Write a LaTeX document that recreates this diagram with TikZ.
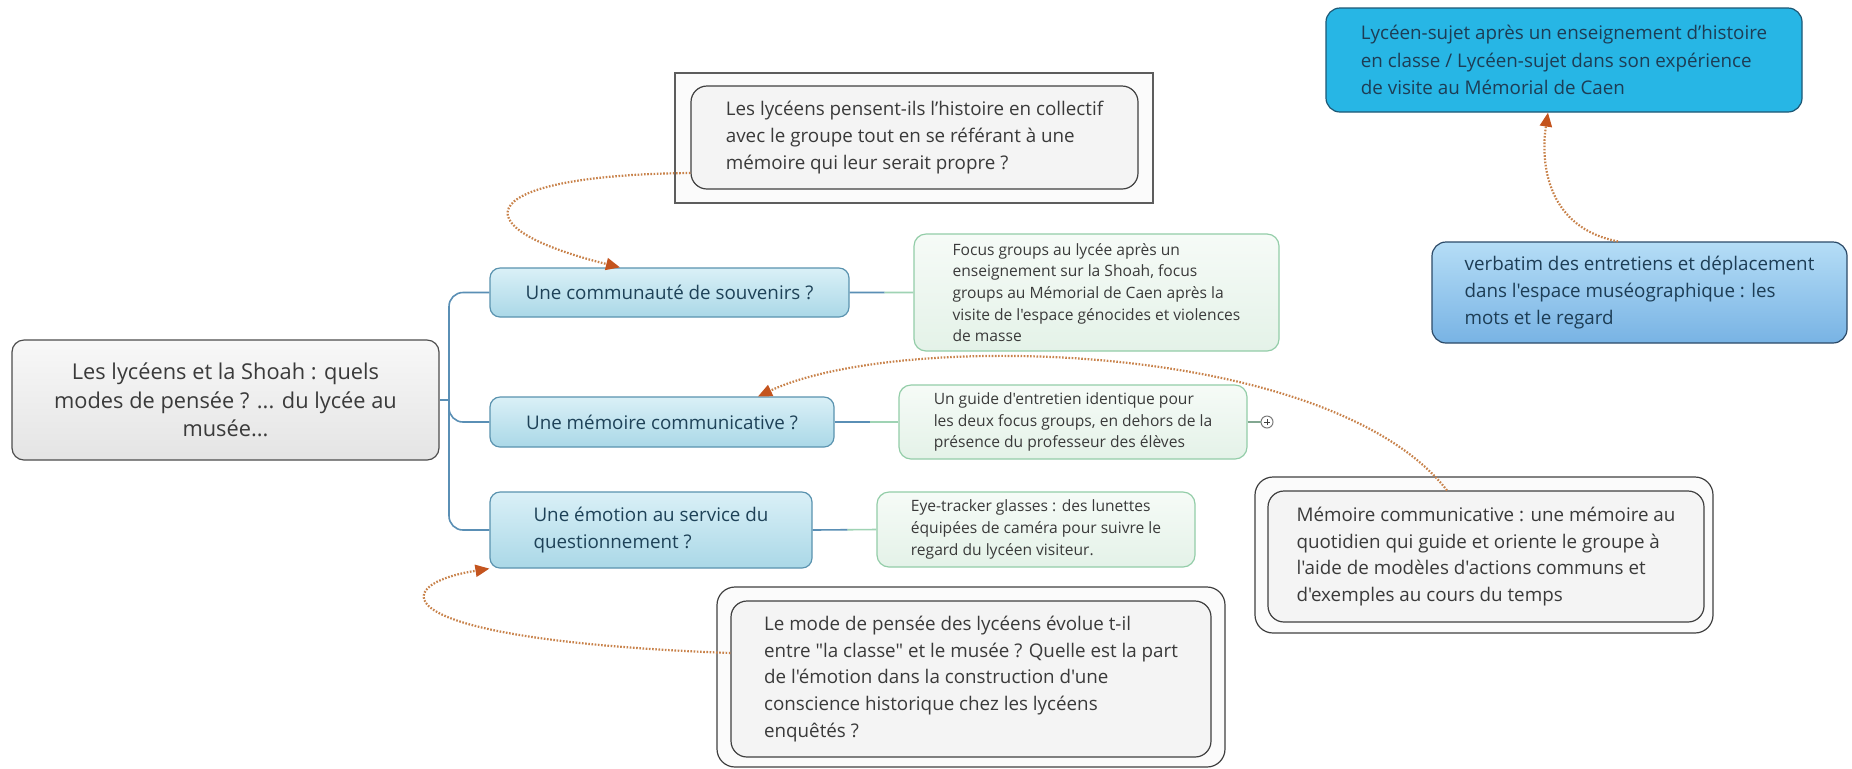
\documentclass[tikz,border=0pt]{standalone}
\usepackage{fontspec}
\setmainfont{Open Sans}[Ligatures=TeXOff]
\usetikzlibrary{arrows.meta,calc}
\definecolor{txtdark}{HTML}{3A3A3A}
\definecolor{mainline}{HTML}{4D4D4D}
\definecolor{mainfa}{HTML}{F8F8F8}
\definecolor{mainfb}{HTML}{E4E4E4}
\definecolor{topline}{HTML}{5A93AF}
\definecolor{topfa}{HTML}{DAF0F7}
\definecolor{topfb}{HTML}{AAD8E7}
\definecolor{toptxt}{HTML}{1E4258}
\definecolor{subline}{HTML}{93CDA8}
\definecolor{subfa}{HTML}{F6FBF7}
\definecolor{subfb}{HTML}{E4F2E8}
\definecolor{qline}{HTML}{404040}
\definecolor{qfill}{HTML}{F4F4F4}
\definecolor{framebg}{HTML}{FBFBFB}
\definecolor{trunkc}{HTML}{5A8FB5}
\definecolor{leafc}{HTML}{9FD3B4}
\definecolor{notec}{HTML}{C8824A}
\definecolor{tipc}{HTML}{C4541E}
\definecolor{rline}{HTML}{1D5875}
\definecolor{rfill}{HTML}{27B6E5}
\definecolor{rtxt}{HTML}{1D3D55}
\definecolor{vfa}{HTML}{B5DDF6}
\definecolor{vfb}{HTML}{78B3E4}
\definecolor{vline}{HTML}{2C4A68}

\begin{document}
\begin{tikzpicture}[x=0.5pt,y=-0.5pt,line width=0.6pt,
  base/.style={inner sep=0pt,align=left},
  mainbox/.style={base,align=center,draw=mainline,rounded corners=6pt,top color=mainfa,bottom color=mainfb,text=txtdark,font=\fontsize{10.9}{14.3}\selectfont},
  topicbox/.style={base,draw=topline,rounded corners=5pt,top color=topfa,bottom color=topfb,text=toptxt,font=\fontsize{9.4}{13.4}\selectfont},
  subbox/.style={base,draw=subline,rounded corners=6pt,top color=subfa,bottom color=subfb,text=txtdark,font=\fontsize{7.8}{10.8}\selectfont},
  quest/.style={base,draw=qline,rounded corners=8pt,fill=qfill,text=txtdark,font=\fontsize{9.4}{13.4}\selectfont},
  qframe/.style={draw=qline,rounded corners=9pt,fill=framebg},
  trunk/.style={draw=trunkc,line width=0.8pt},
  note/.style={draw=notec,line width=1.1pt,dash pattern=on 0.8pt off 0.8pt,-{Triangle[length=7pt,width=6pt,color=tipc]}}
]
\fill[white] (0,0) rectangle (1852,768);
\useasboundingbox (0,0) rectangle (1852,768);

% 中心主题
\node[mainbox,minimum width=213.5pt,minimum height=60pt] (main) at (225.5,400)
  {Les lycéens et la Shoah : quels\\modes de pensée ? ... du lycée au\\musée...};

% 分支主题
\node[topicbox,minimum width=179.5pt,minimum height=24.5pt] (t1) at (669.5,292.5)
  {Une communauté de souvenirs ?};
\node[topicbox,minimum width=172pt,minimum height=25pt] (t2) at (662,422)
  {Une mémoire communicative ?};
\node[topicbox,minimum width=161pt,minimum height=38pt] (t3) at (651,530)
  {Une émotion au service du\\questionnement ?};

% 子主题
\node[subbox,minimum width=182.5pt,minimum height=58.5pt] (s1) at (1096.5,292.5)
  {Focus groups au lycée après un\\enseignement sur la Shoah, focus\\groups au Mémorial de Caen après la\\visite de l'espace génocides et violences\\de masse};
\node[subbox,minimum width=174pt,minimum height=37pt] (s2) at (1073,422)
  {Un guide d'entretien identique pour\\les deux focus groups, en dehors de la\\présence du professeur des élèves};
\node[subbox,minimum width=159pt,minimum height=37.5pt] (s3) at (1036,529.5)
  {Eye-tracker glasses : des lunettes\\équipées de caméra pour suivre le\\regard du lycéen visiteur.};
\node[draw=qline!70,fill=white,circle,minimum size=6pt,inner sep=0pt,line width=0.5pt] (plus) at (1267,422) {};
\draw[qline,line width=0.5pt] ([xshift=-1.6pt]plus.center) -- ([xshift=1.6pt]plus.center)
  ([yshift=-1.6pt]plus.center) -- ([yshift=1.6pt]plus.center);

% 问题框
\node[draw=qline!85,fill=framebg,minimum width=239pt,minimum height=65pt] (q1frame) at (914,138) {};
\node[quest,minimum width=223.5pt,minimum height=51.5pt] (q1) at (914.5,137.5)
  {Les lycéens pensent-ils l’histoire en collectif\\avec le groupe tout en se référant à une\\mémoire qui leur serait propre ?};
\node[qframe,minimum width=254pt,minimum height=90pt] (q2frame) at (971,677) {};
\node[quest,minimum width=240pt,minimum height=78pt] (q2) at (971,679)
  {Le mode de pensée des lycéens évolue t-il\\entre "la classe" et le musée ? Quelle est la part\\de l'émotion dans la construction d'une\\conscience historique chez les lycéens\\enquêtés ?};
\node[qframe,minimum width=229pt,minimum height=78pt] (q3frame) at (1484,555) {};
\node[quest,minimum width=218pt,minimum height=65.5pt] (q3) at (1486,556.5)
  {Mémoire communicative : une mémoire au\\quotidien qui guide et oriente le groupe à\\l'aide de modèles d'actions communs et\\d'exemples au cours du temps};

% 右上
\node[base,draw=rline,rounded corners=7pt,fill=rfill,text=rtxt,font=\fontsize{9.4}{13.6}\selectfont,
  minimum width=238pt,minimum height=52pt] (r1) at (1564,60)
  {Lycéen-sujet après un enseignement d’histoire\\en classe / Lycéen-sujet dans son expérience\\de visite au Mémorial de Caen};
\node[base,draw=vline,rounded corners=7pt,top color=vfa,bottom color=vfb,text=rtxt,font=\fontsize{9.4}{13.3}\selectfont,
  minimum width=207.5pt,minimum height=50.5pt] (r2) at (1639.5,292.5)
  {verbatim des entretiens et déplacement\\dans l'espace muséographique : les\\mots et le regard};

% 连线
\coordinate (hub) at (449,400);
\draw[trunk] (main.east) -- (hub);
\draw[trunk,rounded corners=7pt] (hub) |- (t1.west);
\draw[trunk,rounded corners=7pt] (hub) |- (t2.west);
\draw[trunk,rounded corners=7pt] (hub) |- (t3.west);
\foreach \a/\b in {t1/s1,t2/s2,t3/s3}{
  \draw[trunk] (\a.east) -- ($(\a.east)!0.55!(\b.west)$);
  \draw[draw=leafc,line width=0.8pt] ($(\a.east)!0.55!(\b.west)$) -- (\b.west);
}
\draw[draw=leafc!70!qline,line width=0.6pt] (s2.east) -- (plus.west);

% 虚线箭头
\draw[note] ([yshift=-17.75pt]q1.west) .. controls (480,175) and (450,225) .. ([xshift=-24.75pt]t1.north);
\draw[note] ([xshift=-19.5pt]q3.north) .. controls (1330,340) and (900,330) .. ([xshift=48pt]t2.north);
\draw[note] ([yshift=13pt]q2.west) .. controls (380,640) and (385,585) .. (t3.south west);
\draw[note] ([xshift=-10.75pt]r2.north) .. controls (1548,228) and (1540,165) .. ([xshift=-8pt]r1.south);
\end{tikzpicture}
\end{document}
